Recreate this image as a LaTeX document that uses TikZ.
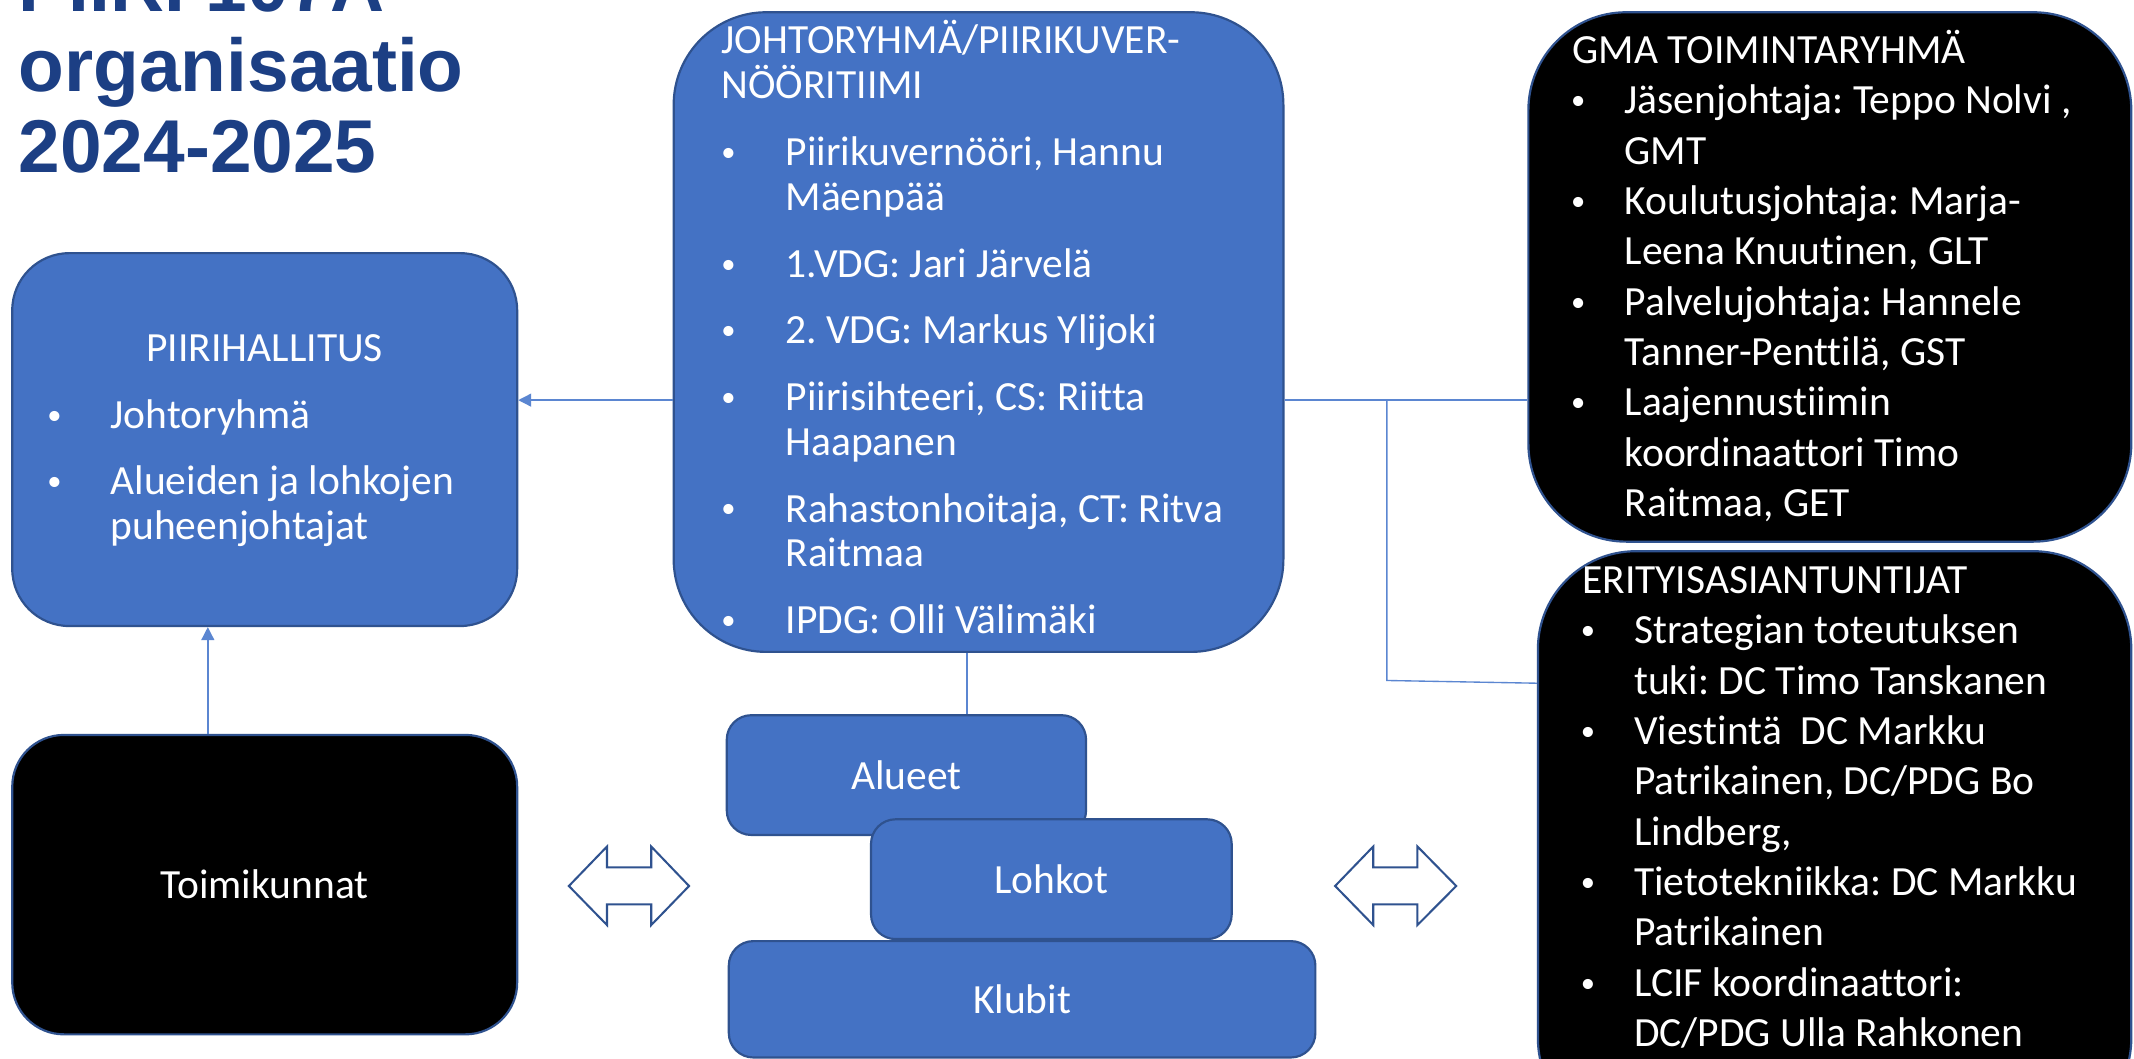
\documentclass[tikz,border=0pt]{standalone}
\usepackage{fontspec}
\setmainfont{Carlito}[Ligatures={NoCommon}]
\newfontfamily\titlefont{Liberation Sans}
\usetikzlibrary{arrows.meta}
\definecolor{boxblue}{HTML}{4472C4}
\definecolor{boxedge}{HTML}{2F528F}
\definecolor{conncol}{HTML}{5B86D1}
\definecolor{titleblue}{HTML}{1C3F84}
\newcommand{\bul}[1]{\leavevmode\llap{\makebox[0pt]{\raisebox{3pt}{\fontsize{21}{21}\selectfont•}}\hspace*{#1}}}
\newcommand{\lst}[2]{\parbox[t]{700pt}{\fontsize{30.5}{#1}\selectfont\frenchspacing\raggedright\lineskiplimit=-50pt\lineskip=0pt #2}}
\tikzset{
  orgbox/.style={rectangle, draw=boxedge, line width=1.6pt, fill=boxblue, inner sep=0pt,
    text=white, font=\fontsize{30.5}{37}\selectfont},
  darkbox/.style={orgbox, fill=black},
  conn/.style={draw=conncol, line width=1pt},
  connarrow/.style={conn, -{Triangle[length=9.5pt,width=9.5pt]}},
  listtext/.style={anchor=base west, inner sep=0pt, text=white},
  dblarrow/.style={draw=boxedge, line width=1.5pt, fill=white, line join=miter}
}
\begin{document}
\begin{tikzpicture}[x=1pt,y=-1pt]
\useasboundingbox (0,0) rectangle (1568,778);
\clip (0,0) rectangle (1568,778);
\fill[white] (0,0) rectangle (1568,778);

% title
\node[anchor=base west, inner sep=0pt, text=titleblue] (title) at (13.5,8.8)
  {\parbox[t]{600pt}{\titlefont\bfseries\fontsize{55}{58.8}\selectfont\lineskiplimit=-50pt\lineskip=0pt PIIRI 107A\\organisaatio\\2024-2025}};

% boxes
\node[orgbox, minimum width=371pt, minimum height=274pt, rounded corners=42pt] (piiri) at (194.5,323) {};
\node[darkbox, minimum width=371pt, minimum height=220pt, rounded corners=38pt] (toimi) at (194.5,650) {Toimikunnat};
\node[orgbox, minimum width=448pt, minimum height=470pt, rounded corners=68pt] (johto) at (719,244) {};
\node[darkbox, minimum width=443pt, minimum height=389pt, rounded corners=72pt] (gma) at (1344.5,203.5) {};
\node[darkbox, minimum width=436pt, minimum height=430pt, rounded corners=72pt] (erit) at (1348,620) {};
\node[orgbox, minimum width=264pt, minimum height=88pt, rounded corners=18pt] (alueet) at (666,569.5) {Alueet};
\node[orgbox, minimum width=265pt, minimum height=88pt, rounded corners=18pt] (lohkot) at (772.5,646) {Lohkot};
\node[orgbox, minimum width=431pt, minimum height=85.5pt, rounded corners=18pt] (klubit) at (751,734.25) {Klubit};

% texts
\node[anchor=base, inner sep=0pt, text=white, font=\fontsize{30.5}{33}\selectfont] (piirihead) at (194.5,265.7) {PIIRIHALLITUS};
\node[listtext] (piiritxt) at (81,314.7) {\lst{33pt}{%
\bul{41.2pt}Johtoryhmä\\[16pt]
\bul{41.2pt}Alueiden ja lohkojen\\
puheenjohtajat}};

\node[listtext] (johtotxt) at (577,39.6) {\lst{33pt}{%
\hspace*{-47pt}JOHTORYHMÄ/PIIRIKUVER-\\
\hspace*{-47pt}NÖÖRITIIMI\\[16pt]
\bul{42pt}Piirikuvernööri, Hannu\\
Mäenpää\\[16pt]
\bul{42pt}1.VDG: Jari Järvelä\\[16pt]
\bul{42pt}2. VDG: Markus Ylijoki\\[16pt]
\bul{42pt}Piirisihteeri, CS: Riitta\\
Haapanen\\[16pt]
\bul{42pt}Rahastonhoitaja, CT: Ritva\\
Raitmaa\\[16pt]
\bul{42pt}IPDG: Olli Välimäki}};

\node[listtext] (gmatxt) at (1193.5,46.6) {\lst{37pt}{%
\hspace*{-38.2pt}GMA TOIMINTARYHMÄ\\
\bul{34pt}Jäsenjohtaja: Teppo Nolvi ,\\
GMT\\
\bul{34pt}Koulutusjohtaja: Marja-\\
Leena Knuutinen, GLT\\
\bul{34pt}Palvelujohtaja: Hannele\\
Tanner-Penttilä, GST\\
\bul{34pt}Laajennustiimin\\
koordinaattori Timo\\
Raitmaa, GET}};

\node[listtext] (erittxt) at (1200.6,436) {\lst{37pt}{%
\hspace*{-38.2pt}ERITYISASIANTUNTIJAT\\
\bul{34pt}Strategian toteutuksen\\
tuki: DC Timo Tanskanen\\
\bul{34pt}Viestintä\ \ DC Markku\\
Patrikainen, DC/PDG Bo\\
Lindberg,\\
\bul{34pt}Tietotekniikka: DC Markku\\
Patrikainen\\
\bul{34pt}LCIF koordinaattori:\\
DC/PDG Ulla Rahkonen}};

% connectors
\coordinate (yh) at (0,294);
\coordinate (xv) at (152.7,0);
\coordinate (xa) at (710.5,0);
\coordinate (bx) at (1019,294);
\coordinate (by) at (1019,500);
\coordinate (ey) at (0,502);
\draw[connarrow] (johto.west |- yh) -- (piiri.east |- yh);
\draw[connarrow] (toimi.north -| xv) -- (piiri.south -| xv);
\draw[conn] (johto.south -| xa) -- (alueet.north -| xa);
\draw[conn] (johto.east |- yh) -- (gma.west |- yh);
\draw[conn] (bx) -- (by) -- (erit.west |- ey);

% double arrows
\path[dblarrow] (418,651) -- (446,622) -- (446,637.3) -- (478.5,637.3) -- (478.5,622) -- (506.3,651)
  -- (478.5,679.7) -- (478.5,664.5) -- (446,664.5) -- (446,679.7) -- cycle;
\path[dblarrow] (981,651) -- (1009,622) -- (1009,637.3) -- (1041.5,637.3) -- (1041.5,622) -- (1070,651)
  -- (1041.5,679.7) -- (1041.5,664.5) -- (1009,664.5) -- (1009,679.7) -- cycle;
\end{tikzpicture}
\end{document}
